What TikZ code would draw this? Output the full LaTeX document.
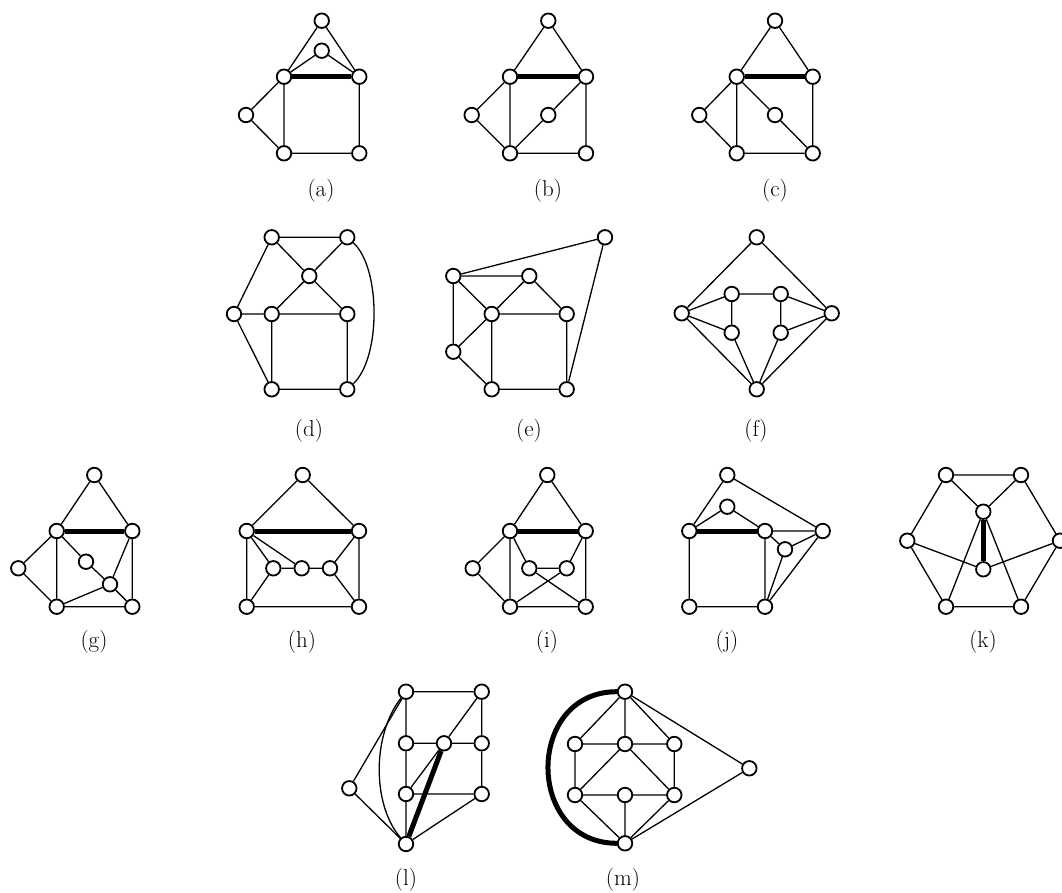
\documentclass[tikz,border=0pt]{standalone}
\begin{document}
\begin{tikzpicture}[x=1pt,y=-1pt,
  v/.style={circle,draw,fill=white,line width=1.8pt,minimum size=14.5pt,inner sep=0pt},
  ed/.style={line width=1.3pt},
  heavy/.style={line width=5pt},
  lab/.style={font=\fontsize{23}{27}\selectfont,inner sep=0pt}]
\useasboundingbox (0,0) rectangle (1062,893);
% (a)
\node[v] (a1) at (321.7,20.7) {};
\node[v] (a2) at (321.7,50.7) {};
\node[v] (a3) at (284,76.7) {};
\node[v] (a4) at (359.3,76.7) {};
\node[v] (a5) at (246,115) {};
\node[v] (a6) at (284,153.3) {};
\node[v] (a7) at (359.3,153.3) {};
\draw[ed] (a1)--(a3) (a1)--(a4) (a2)--(a3) (a2)--(a4) (a3)--(a5) (a5)--(a6) (a3)--(a6) (a4)--(a7) (a6)--(a7);
\draw[heavy] (a3)--(a4);
\node[lab] (la) at (321,191) {(a)};
% (b)
\node[v] (b1) at (548.3,20.7) {};
\node[v] (b3) at (510,76.7) {};
\node[v] (b4) at (586,76.7) {};
\node[v] (b5) at (471.7,115) {};
\node[v] (b2) at (548.3,115) {};
\node[v] (b6) at (510,153.3) {};
\node[v] (b7) at (586,153.3) {};
\draw[ed] (b1)--(b3) (b1)--(b4) (b3)--(b5) (b5)--(b6) (b3)--(b6) (b4)--(b2) (b2)--(b6) (b4)--(b7) (b6)--(b7);
\draw[heavy] (b3)--(b4);
\node[lab] (lb) at (548,191) {(b)};
% (c)
\node[v] (c1) at (775,20.7) {};
\node[v] (c3) at (736.7,76.7) {};
\node[v] (c4) at (812.7,76.7) {};
\node[v] (c5) at (699.3,115) {};
\node[v] (c2) at (775,115) {};
\node[v] (c6) at (736.7,153.3) {};
\node[v] (c7) at (812.7,153.3) {};
\draw[ed] (c1)--(c3) (c1)--(c4) (c3)--(c5) (c5)--(c6) (c3)--(c6) (c3)--(c2) (c2)--(c7) (c4)--(c7) (c6)--(c7);
\draw[heavy] (c3)--(c4);
\node[lab] (lc) at (775,191) {(c)};
% (d)
\node[v] (d1) at (271.7,237.3) {};
\node[v] (d2) at (347.3,237.3) {};
\node[v] (d3) at (309.3,276) {};
\node[v] (d4) at (234,314) {};
\node[v] (d5) at (271.7,314) {};
\node[v] (d6) at (347.3,314) {};
\node[v] (d7) at (271.7,389.3) {};
\node[v] (d8) at (347.3,389.3) {};
\draw[ed] (d1)--(d2) (d1)--(d3) (d2)--(d3) (d1)--(d4) (d3)--(d5) (d3)--(d6) (d4)--(d5) (d5)--(d6) (d4)--(d7) (d5)--(d7) (d6)--(d8) (d7)--(d8);
\draw[ed] (d2) .. controls (381,268) and (381,358) .. (d8);
\node[lab] (ld) at (309,431) {(d)};
% (e)
\node[v] (e1) at (605,237.3) {};
\node[v] (e2) at (453.3,276) {};
\node[v] (e3) at (529.3,276) {};
\node[v] (e4) at (491.7,314) {};
\node[v] (e5) at (566.7,314) {};
\node[v] (e6) at (453.3,351.7) {};
\node[v] (e7) at (491.7,389.3) {};
\node[v] (e8) at (566.7,389.3) {};
\draw[ed] (e2)--(e1) (e1)--(e8) (e2)--(e3) (e2)--(e4) (e3)--(e4) (e3)--(e5) (e2)--(e6) (e4)--(e6) (e4)--(e5) (e4)--(e7) (e6)--(e7) (e5)--(e8) (e7)--(e8);
\node[lab] (le) at (529,431) {(e)};
% (f)
\node[v] (f1) at (756.7,237.3) {};
\node[v] (f2) at (681.7,313.3) {};
\node[v] (f3) at (831.7,313.3) {};
\node[v] (f4) at (731.7,294) {};
\node[v] (f5) at (780.7,294) {};
\node[v] (f6) at (731.7,332.7) {};
\node[v] (f7) at (780.7,332.7) {};
\node[v] (f8) at (756.7,389.3) {};
\draw[ed] (f1)--(f2) (f1)--(f3) (f2)--(f4) (f2)--(f6) (f2)--(f8) (f3)--(f5) (f3)--(f7) (f3)--(f8) (f4)--(f5) (f4)--(f6) (f5)--(f7) (f6)--(f8) (f7)--(f8);
\node[lab] (lf) at (756,431) {(f)};
% (g)
\node[v] (g1) at (94.3,475) {};
\node[v] (g3) at (56.7,531) {};
\node[v] (g4) at (132.3,531) {};
\node[v] (g5) at (18.3,568.3) {};
\node[v] (g2) at (86,561.7) {};
\node[v] (g8) at (110,584.3) {};
\node[v] (g6) at (56.7,606.7) {};
\node[v] (g7) at (132.3,606.7) {};
\draw[ed] (g1)--(g3) (g1)--(g4) (g3)--(g5) (g5)--(g6) (g3)--(g6) (g3)--(g2) (g2)--(g8) (g8)--(g7) (g4)--(g8) (g8)--(g6) (g4)--(g7) (g6)--(g7);
\draw[heavy] (g3)--(g4);
\node[lab] (lg) at (94,642) {(g)};
% (h)
\node[v] (h1) at (302.7,475) {};
\node[v] (h3) at (246.7,531) {};
\node[v] (h4) at (359,531) {};
\node[v] (h5) at (273.3,568.3) {};
\node[v] (h2) at (301.7,568.3) {};
\node[v] (h8) at (330,568.3) {};
\node[v] (h6) at (246.7,606.7) {};
\node[v] (h7) at (359,606.7) {};
\draw[ed] (h1)--(h3) (h1)--(h4) (h3)--(h6) (h3)--(h5) (h3)--(h2) (h5)--(h2) (h2)--(h8) (h8)--(h4) (h5)--(h6) (h8)--(h7) (h4)--(h7) (h6)--(h7);
\draw[heavy] (h3)--(h4);
\node[lab] (lh) at (302,642) {(h)};
% (i)
\node[v] (i1) at (547.3,475) {};
\node[v] (i3) at (510,531) {};
\node[v] (i4) at (585.7,531) {};
\node[v] (i5) at (472.7,568.3) {};
\node[v] (i2) at (529.3,568.3) {};
\node[v] (i8) at (566.7,568.3) {};
\node[v] (i6) at (510,606.7) {};
\node[v] (i7) at (585.7,606.7) {};
\draw[ed] (i1)--(i3) (i1)--(i4) (i3)--(i5) (i5)--(i6) (i3)--(i6) (i3)--(i2) (i2)--(i8) (i8)--(i4) (i2)--(i7) (i8)--(i6) (i4)--(i7) (i6)--(i7);
\draw[heavy] (i3)--(i4);
\node[lab] (li) at (547,642) {(i)};
% (j)
\node[v] (j1) at (727.3,475) {};
\node[v] (j2) at (727.3,506.7) {};
\node[v] (j3) at (689.3,531) {};
\node[v] (j4) at (765,531) {};
\node[v] (j5) at (822.7,531) {};
\node[v] (j8) at (785,549.3) {};
\node[v] (j6) at (689.3,606.7) {};
\node[v] (j7) at (765,606.7) {};
\draw[ed] (j1)--(j3) (j1)--(j5) (j2)--(j3) (j2)--(j4) (j4)--(j5) (j4)--(j8) (j8)--(j5) (j3)--(j6) (j6)--(j7) (j4)--(j7) (j8)--(j7) (j5)--(j7);
\draw[heavy] (j3)--(j4);
\node[lab] (lj) at (727,642) {(j)};
% (k)
\node[v] (k1) at (946,475) {};
\node[v] (k2) at (1021,475) {};
\node[v] (k3) at (983.3,511.7) {};
\node[v] (k4) at (907.3,540.7) {};
\node[v] (k5) at (1060,540.7) {};
\node[v] (k6) at (983.3,569.3) {};
\node[v] (k7) at (946,606.7) {};
\node[v] (k8) at (1021,606.7) {};
\draw[ed] (k1)--(k2) (k1)--(k3) (k2)--(k3) (k1)--(k4) (k2)--(k5) (k4)--(k7) (k5)--(k8) (k7)--(k8) (k4)--(k6) (k5)--(k6) (k3)--(k7) (k3)--(k8);
\draw[heavy] (k3)--(k6);
\node[lab] (lk) at (983,642) {(k)};
% (l)
\node[v] (l1) at (406,691.7) {};
\node[v] (l2) at (481.7,691.7) {};
\node[v] (l3) at (406,743.3) {};
\node[v] (l4) at (444,743.3) {};
\node[v] (l5) at (481.7,743.3) {};
\node[v] (l6) at (406,794) {};
\node[v] (l7) at (481.7,794) {};
\node[v] (l8) at (406,844) {};
\node[v] (l9) at (349.3,788.3) {};
\draw[ed] (l1)--(l2) (l1)--(l3) (l2)--(l5) (l2)--(l4) (l3)--(l4) (l4)--(l5) (l3)--(l6) (l5)--(l7) (l6)--(l7) (l6)--(l8) (l4)--(l6) (l7)--(l8) (l9)--(l1) (l9)--(l8);
\draw[ed] (l1) .. controls (372,735) and (372,805) .. (l8);
\draw[heavy] (l4)--(l8);
\node[lab] (ll) at (406,880) {(l)};
% (m)
\node[v] (m1) at (625,691.7) {};
\node[v] (m2) at (575,744) {};
\node[v] (m3) at (625,744) {};
\node[v] (m4) at (674.3,744) {};
\node[v] (m5) at (575,795) {};
\node[v] (m6) at (625,795) {};
\node[v] (m7) at (674.3,795) {};
\node[v] (m8) at (625,843.3) {};
\node[v] (m9) at (749.3,768.3) {};
\draw[ed] (m1)--(m2) (m1)--(m3) (m1)--(m4) (m1)--(m9) (m2)--(m3) (m3)--(m4) (m2)--(m5) (m4)--(m7) (m3)--(m5) (m3)--(m7) (m5)--(m6) (m6)--(m7) (m6)--(m8) (m5)--(m8) (m7)--(m8) (m8)--(m9);
\draw[heavy] (m1) .. controls (525,691.7) and (525,843.3) .. (m8);
\node[lab] (lm) at (623,880) {(m)};
\end{tikzpicture}
\end{document}
